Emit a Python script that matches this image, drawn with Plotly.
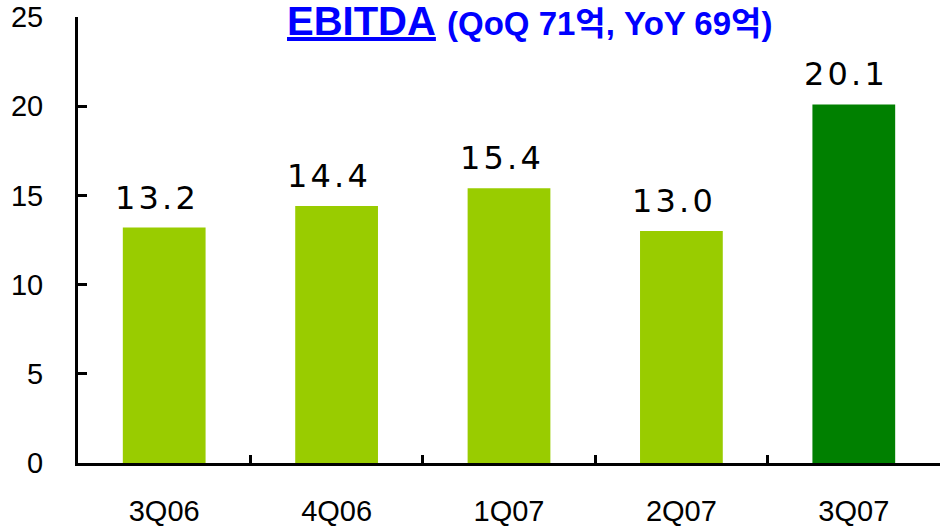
import plotly.graph_objects as go

quarters = ['3Q06', '4Q06', '1Q07', '2Q07', '3Q07']
ebitda = [13.2, 14.4, 15.4, 13.0, 20.1]
bar_colors = ['#99CC00', '#99CC00', '#99CC00', '#99CC00', '#008000']
y_ticks = [0, 5, 10, 15, 20, 25]

# spaced digits like the original slide
labels = ['\u200a'.join(f'{v:.1f}') for v in ebitda]

fig = go.Figure()

fig.add_trace(go.Bar(
    x=quarters,
    y=ebitda,
    width=0.48,
    marker=dict(color=bar_colors, line=dict(width=0)),
))

# value labels sit a bit higher above the bars than plotly's outside text
for q, v, lab in zip(quarters, ebitda, labels):
    fig.add_annotation(
        x=q, y=v, text=lab, showarrow=False,
        xanchor='center', yanchor='bottom', yshift=9, xshift=-9,
        font=dict(family='DejaVu Sans', size=32, color='black'),
    )

fig.add_annotation(
    text="<u><b>EBITDA</b></u> <b><span style='font-size:33px'>(QoQ 71억, YoY 69억)</span></b>",
    xref='paper', yref='paper', x=0.524, y=0.99,
    xanchor='center', yanchor='middle', showarrow=False,
    font=dict(family='Liberation Sans, Noto Sans CJK KR', size=40, color='#0000FF'),
)

fig.update_layout(
    width=941, height=527,
    margin=dict(l=78, r=1, t=17, b=64),
    paper_bgcolor='white',
    plot_bgcolor='white',
    showlegend=False,
    xaxis=dict(
        type='category',
        automargin=False,
        showline=True, linewidth=3, linecolor='black',
        ticks='inside', tickson='boundaries', ticklen=8, tickwidth=3, tickcolor='black',
        tickfont=dict(family='Liberation Sans', size=29, color='black'),
        ticklabelstandoff=20,
        showgrid=False,
    ),
    yaxis=dict(
        range=[0, 25],
        tickvals=y_ticks,
        automargin=False,
        showline=True, linewidth=3, linecolor='black',
        ticks='inside', ticklen=9, tickwidth=3, tickcolor='black',
        tickfont=dict(family='Liberation Sans', size=29, color='black'),
        ticklabelstandoff=26,
        showgrid=False, zeroline=False,
    ),
)

# drop the default page margin so the figure fills the window
fig.write_html("out.html", config={'displayModeBar': False},
               post_script="document.body.style.margin='0';")
